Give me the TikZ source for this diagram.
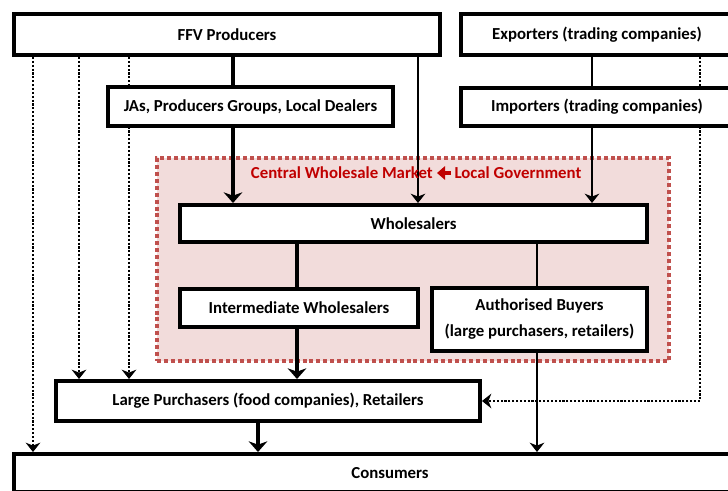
\documentclass[tikz,border=0pt]{standalone}
\usepackage{fontspec}
\setmainfont{Carlito}
\usetikzlibrary{arrows.meta}

\pgfdeclarelayer{back}
\pgfdeclarelayer{wires}
\pgfsetlayers{back,wires,main}

\definecolor{mktred}{RGB}{192,80,77}
\definecolor{mktfill}{RGB}{242,220,219}
\definecolor{govred}{RGB}{192,0,0}

\tikzset{
  box/.style={draw, line width=3.3pt, fill=white, inner sep=0pt, align=center,
    font=\fontsize{12.6}{14.5}\selectfont\bfseries},
  thickline/.style={line width=2.3pt},
  thinline/.style={line width=1.5pt},
  dotline/.style={line width=1.8pt, dash pattern=on 1.6pt off 1.3pt},
  bigtip/.style={-{Stealth[length=8pt,width=14pt,inset=2.5pt]}},
  smalltip/.style={-{Stealth[length=7pt,width=11pt,inset=2.2pt]}}
}

\begin{document}
\begin{tikzpicture}[x=0.75pt, y=-0.75pt]
  \useasboundingbox (0,0) rectangle (728,491);

  \node[box, minimum width=319.2pt, minimum height=30.45pt] (ffv) at (227,34.5) {FFV Producers};
  \node[box, minimum width=203.7pt, minimum height=30.45pt] (exp) at (597,34.5) {Exporters (trading companies)};
  \node[box, minimum width=213.45pt, minimum height=28.95pt] (jas) at (250.5,106.5) {JAs, Producers Groups, Local Dealers};
  \node[box, minimum width=203.7pt, minimum height=28.2pt] (imp) at (597,107) {Importers (trading companies)};
  \node[box, minimum width=349.95pt, minimum height=27.45pt] (whole) at (413.5,223.5) {Wholesalers};
  \node[box, minimum width=178.2pt, minimum height=28.2pt] (inter) at (299,308) {Intermediate Wholesalers};
  \node[box, minimum width=160.95pt, minimum height=46.95pt] (auth) at (539.5,319.5)
    {Authorised Buyers\\[5pt](large purchasers, retailers)};
  \node[box, minimum width=317.7pt, minimum height=29.7pt] (large) at (268,401) {Large Purchasers (food companies), Retailers};
  \node[box, minimum width=563.7pt, minimum height=28.2pt] (cons) at (390,473) {Consumers};

  % central wholesale market
  \begin{pgfonlayer}{back}
    \node[draw=mktred, fill=mktfill, line width=3pt, dash pattern=on 3pt off 2.2pt,
      minimum width=384.1pt, minimum height=152.2pt] (market) at (413,259.5) {};
  \end{pgfonlayer}
  \node[text=govred, inner sep=3pt, anchor=east, font=\fontsize{12.6}{14.5}\selectfont\bfseries]
    (cwm) at (437,173) {Central Wholesale Market};
  \node[text=govred, inner sep=2.5pt, anchor=west, font=\fontsize{12.6}{14.5}\selectfont\bfseries]
    (gov) at (451,173) {Local Government};
  \draw[govred, line width=2.8pt, -{Triangle[length=6pt,width=10pt]}] (gov.west) -- (cwm.east);

  \begin{pgfonlayer}{wires}
    \draw[thickline] (ffv.south -| 233,0) -- (jas.north -| 233,0);
    \draw[thickline, bigtip] (jas.south -| 233,0) -- (whole.north -| 233,0);
    \draw[thinline, smalltip] (ffv.south -| 418,0) -- (whole.north -| 418,0);
    \draw[thinline] (exp.south -| 592,0) -- (imp.north -| 592,0);
    \draw[thinline, smalltip] (imp.south -| 592,0) -- (whole.north -| 592,0);
    \draw[thickline] (whole.south -| 297,0) -- (inter.north -| 297,0);
    \draw[thickline, bigtip] (inter.south -| 297,0) -- (large.north -| 297,0);
    \draw[thinline] (whole.south -| 537,0) -- (auth.north -| 537,0);
    \draw[thinline, smalltip] (auth.south -| 537,0) -- (cons.north -| 537,0);
    \draw[thickline, bigtip] (large.south -| 258,0) -- (cons.north -| 258,0);
    \draw[dotline, smalltip] (ffv.south -| 33,0) -- (cons.north -| 33,0);
    \draw[dotline, smalltip] (ffv.south -| 79,0) -- (large.north -| 79,0);
    \draw[dotline, smalltip] (ffv.south -| 129,0) -- (large.north -| 129,0);
    \draw[dotline, smalltip] (exp.south -| 700,0) |- (large.east);
  \end{pgfonlayer}
\end{tikzpicture}
\end{document}
